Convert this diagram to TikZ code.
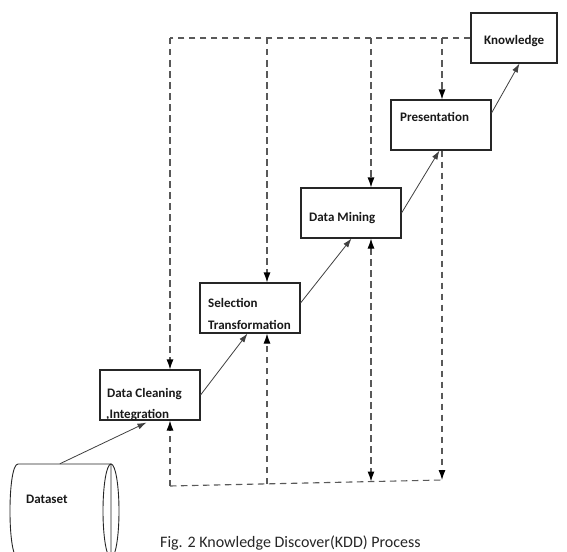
\documentclass[tikz,border=0pt]{standalone}
\usepackage{fontspec}
\setmainfont{Carlito}
\usetikzlibrary{arrows.meta,calc,shadows}
\begin{document}
\begin{tikzpicture}[x=1pt,y=-1pt,
  box/.style={draw=black!85, line width=1.1pt, fill=white, minimum width=100pt, minimum height=50pt, inner sep=0pt,
    drop shadow={shadow xshift=1.3pt, shadow yshift=-1.3pt, fill=black!60, opacity=1}},
  lbl/.style={font=\fontsize{13}{15}\selectfont\bfseries, inner sep=0pt, text=black!90, anchor=base west},
  conn/.style={draw=black!75, line width=0.8pt, -{Latex[length=9pt,width=6pt]}},
  dashln/.style={draw=black!65, line width=1.1pt, dash pattern=on 6.5pt off 4.5pt},
  tipend/.style={-{Latex[length=10pt,width=7pt,fill=black,color=black]}},
  tipboth/.style={{Latex[length=10pt,width=7pt,fill=black,color=black]}-{Latex[length=10pt,width=7pt,fill=black,color=black]}}
]
\useasboundingbox (0,0) rectangle (567,551);
\fill[white] (0,0) rectangle (567,551);

% boxes
\node[box, minimum width=86pt] (k) at (514,38) {};
\node[box] (p) at (441,125) {};
\node[box] (m) at (351,213) {};
\node[box] (s) at (250,308) {};
\node[box] (c) at (150,395) {};

% labels
\node[lbl] (kt) at (484,45) {Knowledge};
\node[lbl] (pt) at (400,121) {Presentation};
\node[lbl] (mt) at (309,221) {Data Mining};
\node[lbl] (st1) at (208,307) {Selection};
\node[lbl] (st2) at (208,329) {Transformation};
\node[lbl] (ct1) at (107,397) {Data Cleaning};
\node[lbl] (ct2) at (106,418) {,Integration};

% dataset cylinder
\node[minimum width=93pt, minimum height=94pt, inner sep=0pt] (ds) at (64.5,511) {};
\draw[black!85, line width=0.9pt, fill=white] (18,464) -- (111,464) -- (111,558) -- (18,558)
   .. controls (7.3,558) and (7.3,464) .. (18,464) -- cycle;
\draw[black!85, line width=0.9pt] (111,511) ellipse [x radius=8pt, y radius=47pt];
\node[lbl] (dst) at (26,503) {Dataset};
\coordinate (dstop) at ($(ds.north west)+(42,0)$);

% solid connectors
\draw[conn] (dstop) -- ($(c.south west)+(47,2)$);
\draw[conn] (c.east) -- ($(s.south west)+(48,0)$);
\draw[conn] ($(s.east)+(0,-5)$) -- ($(m.south west)+(51,0)$);
\draw[conn] (m.east) -- ($(p.south west)+(49,0)$);
\draw[conn] ($(p.east)+(0,-12)$) -- ($(k.south west)+(49,0)$);

% top dashed bus
\coordinate (t1) at (170,38);
\coordinate (t2) at (267,38);
\coordinate (t3) at (371,38);
\coordinate (t4) at (442,38);
\draw[dashln] (k.west) -- (t1);
\draw[dashln, tipend] (t1) -- (t1 |- c.north);
\draw[dashln, tipend] (t2) -- (t2 |- s.north);
\draw[dashln, tipend] (t3) -- (t3 |- m.north);
\draw[dashln, tipend] (t4) -- (t4 |- p.north);

% bottom dashed bus
\coordinate (b1) at (170,486);
\coordinate (b2) at (267,484);
\coordinate (b3) at (371,481.5);
\coordinate (b4) at (442,480);
\draw[dashln] (b1) -- (b4);
\draw[dashln, tipend] (b1) -- (b1 |- c.south);
\draw[dashln, tipend] (b2) -- (b2 |- s.south);
\draw[dashln, tipboth] (b3 |- m.south) -- (b3);
\draw[dashln, tipend] (b4 |- p.south) -- (b4);

% caption
\node[font=\fontsize{16}{18}\selectfont, inner sep=0pt, anchor=base west, text=black!85] (cap) at (160,547) {Fig. 2 Knowledge Discover(KDD) Process};
\end{tikzpicture}
\end{document}
